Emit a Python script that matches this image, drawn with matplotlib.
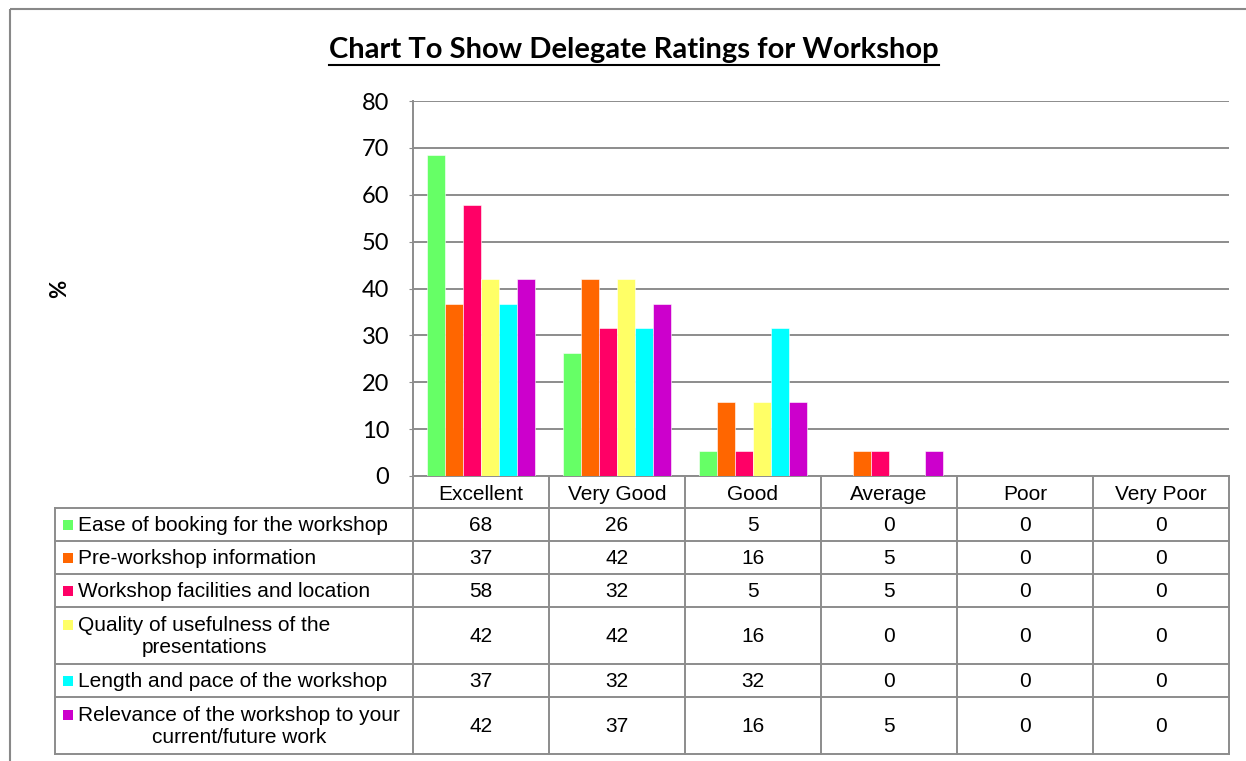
import matplotlib
matplotlib.use("Agg")
import matplotlib.pyplot as plt
from matplotlib.patches import Rectangle

# data
CATEGORIES = ["Excellent", "Very Good", "Good", "Average", "Poor", "Very Poor"]
SERIES = [
    "Ease of booking for the workshop",
    "Pre-workshop information",
    "Workshop facilities and location",
    "Quality of usefulness of the\npresentations",
    "Length and pace of the workshop",
    "Relevance of the workshop to your\ncurrent/future work",
]
EASE = [68.4, 26.3, 5.3, 0, 0, 0]
PRE_INFO = [36.8, 42.1, 15.8, 5.3, 0, 0]
FACILITIES = [57.9, 31.6, 5.3, 5.3, 0, 0]
QUALITY = [42.1, 42.1, 15.8, 0, 0, 0]
LENGTH = [36.8, 31.6, 31.6, 0, 0, 0]
RELEVANCE = [42.1, 36.8, 15.8, 5.3, 0, 0]
VALUES = [EASE, PRE_INFO, FACILITIES, QUALITY, LENGTH, RELEVANCE]
COLORS = ["#66FF66", "#FF6600", "#FF0066", "#FFFF66", "#00FFFF", "#CC00CC"]

TITLE = "Chart To Show Delegate Ratings for Workshop"

# layout in pixels
W, H = 1246, 761
PLOT_L, PLOT_R, PLOT_T, PLOT_B = 413, 1229, 101, 476
LEG_L = 55
ROW_EDGES = [476, 508, 541, 574, 607, 664, 697, 754]
GRID = "#8c8c8c"
TABLE_FONT = "Liberation Sans"
CAL_FONT = "Lato"
TFS = 15

fig = plt.figure(figsize=(W / 100, H / 100), dpi=100)

# overlay axes in pixel coordinates for frame + data table
tab = fig.add_axes([0, 0, 1, 1])
tab.set_xlim(0, W)
tab.set_ylim(H, 0)
tab.axis("off")

# outer chart frame
tab.add_patch(Rectangle((10, 9), W + 20, H + 20, fill=False, edgecolor="#888888", linewidth=1.5))

col_w = (PLOT_R - PLOT_L) / len(CATEGORIES)
col_edges = [PLOT_L + i * col_w for i in range(len(CATEGORIES) + 1)]
lw = 1.4

# horizontal lines
tab.plot([PLOT_L, PLOT_R], [ROW_EDGES[0]] * 2, color=GRID, lw=lw)
for y in ROW_EDGES[1:]:
    tab.plot([LEG_L, PLOT_R], [y, y], color=GRID, lw=lw)
# vertical lines
for x in col_edges:
    tab.plot([x, x], [ROW_EDGES[0], ROW_EDGES[-1]], color=GRID, lw=lw)
tab.plot([LEG_L, LEG_L], [ROW_EDGES[1], ROW_EDGES[-1]], color=GRID, lw=lw)

# header row
hy = (ROW_EDGES[0] + ROW_EDGES[1]) / 2 + 2
for i, cat in enumerate(CATEGORIES):
    tab.text(col_edges[i] + col_w / 2, hy, cat, ha="center", va="center",
             fontsize=TFS, family=TABLE_FONT)

# body rows
for r, (name, vals, color) in enumerate(zip(SERIES, VALUES, COLORS)):
    y0, y1 = ROW_EDGES[r + 1], ROW_EDGES[r + 2]
    yc = (y0 + y1) / 2
    nlines = name.count("\n") + 1
    tab.text(78, yc + 1, name, ha="left", va="center", multialignment="center",
             fontsize=TFS, family=TABLE_FONT, linespacing=1.25)
    sq_y = yc - (nlines - 1) * 11
    tab.add_patch(Rectangle((63, sq_y - 5), 10, 10, facecolor=color, edgecolor="none"))
    for i, v in enumerate(vals):
        tab.text(col_edges[i] + col_w / 2, yc + 1, f"{v:.0f}", ha="center", va="center",
                 fontsize=TFS, family=TABLE_FONT)

# main bar axes
ax = fig.add_axes([PLOT_L / W, 1 - PLOT_B / H, (PLOT_R - PLOT_L) / W, (PLOT_B - PLOT_T) / H])
ax.patch.set_alpha(0)
bw = 18 / col_w
n = len(SERIES)
for j, (vals, color) in enumerate(zip(VALUES, COLORS)):
    xs = [i + (j - (n - 1) / 2) * bw for i in range(len(CATEGORIES))]
    ax.bar(xs, vals, width=bw, color=color, edgecolor="white", linewidth=0.4, zorder=3)

ax.set_xlim(-0.5, len(CATEGORIES) - 0.5)
ax.set_ylim(0, 80)
ax.set_yticks(range(0, 81, 10))
ax.set_xticks([])
ax.yaxis.grid(True, color=GRID, linewidth=1.4, zorder=0)
ax.set_axisbelow(True)
for side in ["top", "right", "bottom"]:
    ax.spines[side].set_visible(False)
ax.spines["left"].set_color(GRID)
ax.spines["left"].set_linewidth(1.4)
ax.tick_params(axis="y", length=3, color=GRID, pad=14, labelsize=17)
for lab in ax.get_yticklabels():
    lab.set_fontfamily(CAL_FONT)

# y label
fig.text(60 / W, 1 - 289 / H, "%", rotation=90, ha="center", va="center",
         fontsize=16, fontweight="bold", family=CAL_FONT)

# title with underline
title = fig.text(634 / W, 1 - 50 / H, TITLE, ha="center", va="center",
                 fontsize=21, fontweight="bold", family=CAL_FONT)
fig.canvas.draw()
bb = title.get_window_extent()
uy = bb.y0 - 2
fig.add_artist(plt.Line2D([bb.x0 / W, bb.x1 / W], [uy / H, uy / H], color="black", linewidth=1.5))

fig.savefig("out.png", dpi=100)
